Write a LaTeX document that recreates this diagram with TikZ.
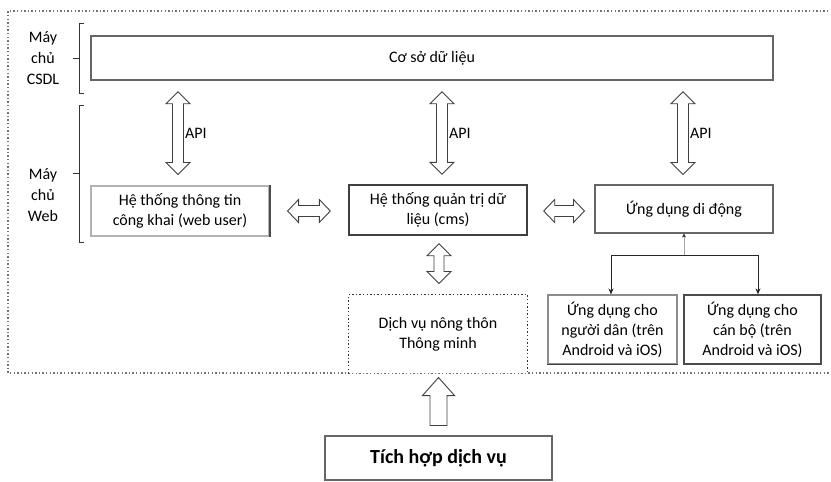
\documentclass[tikz,border=0pt]{standalone}
\usepackage{fontspec}
\setmainfont{Carlito}
\usetikzlibrary{calc,arrows.meta}
\tikzset{
  txt/.style={font=\fontsize{16}{20}\selectfont, align=center, text=black},
  box/.style={txt, draw=black!60, line width=1.1pt, fill=white, inner sep=0pt, anchor=center},
  lbl/.style={font=\fontsize{16}{21}\selectfont, align=center, text=black},
  brk/.style={draw=black!80, line width=1pt},
  fatarrow/.style={draw=black!75, fill=white, line width=0.9pt, line join=miter},
  dotline/.style={draw=black!55, line width=1.2pt, dash pattern=on 1.4pt off 2.2pt},
  conn/.style={draw=black!85, line width=1pt},
}
% vertical double fat arrow: top point, bottom point, half head width, head length, half shaft width
\newcommand\vdfat[5]{%
  \path[fatarrow] let \p1=#1, \p2=#2 in
   (\x1,\y1) -- ({\x1+#3},{\y1-#4}) -- ({\x1+#5},{\y1-#4}) -- ({\x1+#5},{\y2+#4}) -- ({\x1+#3},{\y2+#4})
   -- (\x1,\y2) -- ({\x1-#3},{\y2+#4}) -- ({\x1-#5},{\y2+#4}) -- ({\x1-#5},{\y1-#4}) -- ({\x1-#3},{\y1-#4}) -- cycle;}
% horizontal double fat arrow: left point, right point
\newcommand\hdfat[5]{%
  \path[fatarrow] let \p1=#1, \p2=#2 in
   (\x1,\y1) -- ({\x1+#4},{\y1+#3}) -- ({\x1+#4},{\y1+#5}) -- ({\x2-#4},{\y1+#5}) -- ({\x2-#4},{\y1+#3})
   -- (\x2,\y1) -- ({\x2-#4},{\y1-#3}) -- ({\x2-#4},{\y1-#5}) -- ({\x1+#4},{\y1-#5}) -- ({\x1+#4},{\y1-#3}) -- cycle;}
% single upward fat arrow: bottom point, top point
\newcommand\upfat[5]{%
  \path[fatarrow] let \p1=#1, \p2=#2 in
   (\x1,\y2) -- ({\x1+#3},{\y2-#4}) -- ({\x1+#5},{\y2-#4}) -- ({\x1+#5},\y1) -- ({\x1-#5},\y1)
   -- ({\x1-#5},{\y2-#4}) -- ({\x1-#3},{\y2-#4}) -- cycle;}
\begin{document}
\begin{tikzpicture}[x=1pt,y=-1pt]
\useasboundingbox[fill=white] (0,0) rectangle (831,482);

% outer dotted frame (right side beyond the picture)
\draw[dotline] (850,11) -- (8,11) -- (8,373) -- (850,373);

% side labels and brackets
\node[lbl] (lcsdl) at (43,58) {Máy\\chủ\\CSDL};
\node[lbl] (lweb) at (43,195) {Máy\\chủ\\Web};
\draw[brk] (84,23) -- (79,23) -- (79,93) -- (84,93);
\draw[brk] (79,58) -- (73,58);
\draw[brk] (84,105) -- (79,105) -- (79,242) -- (84,242);
\draw[brk] (79,173) -- (73,173);

% boxes
\node[box, minimum width=682pt, minimum height=44pt, line width=1.4pt] (db) at (432,58) {Cơ sở dữ liệu};
\node[box, draw=black!30, minimum width=178pt, minimum height=50pt] (web) at (180,211) {Hệ thống thông tin\\công khai (web user)};
\draw[line width=2pt, black!70] (web.north east) -- (web.south east);
\node[box, draw=black!75, line width=1.4pt, minimum width=178pt, minimum height=50pt] (cms) at (438,210) {Hệ thống quản trị dữ\\liệu (cms)};
\node[box, minimum width=178pt, minimum height=48pt] (mob) at (684,209) {Ứng dụng di động};
\node[box, draw=none, minimum width=178pt, minimum height=78pt] (dv) at (438,334) {Dịch vụ nông thôn\\Thông minh};
\draw[dotline, draw=black!80] (dv.south west) -- (dv.north west) -- (dv.north east) -- (dv.south east);
\node[box, font=\fontsize{20}{24}\selectfont\bfseries, minimum width=227pt, minimum height=44pt] (th) at (438.5,458) {Tích hợp dịch vụ};
\node[box, draw=black!45, minimum width=129pt, minimum height=69pt] (cit) at (612.5,329.5) {Ứng dụng cho\\người dân (trên\\Android và iOS)};
\draw[line width=1.6pt, black!75] (cit.south west) -- (cit.south east);
\node[box, draw=black!70, line width=1.3pt, minimum width=137pt, minimum height=69pt] (off) at (752.5,329.5) {Ứng dụng cho\\cán bộ (trên\\Android và iOS)};

% API fat arrows
\vdfat{($(db.south -| web.north)+(-2,11)$)}{($(web.north)+(-2,-11)$)}{12pt}{12pt}{5.5pt}
\vdfat{($(db.south -| cms.north)+(4,11)$)}{($(cms.north)+(4,-10)$)}{12pt}{12pt}{5.5pt}
\vdfat{($(db.south -| mob.north)+(-1,11)$)}{($(mob.north)+(-1,-10)$)}{12pt}{12pt}{5.5pt}
\node[txt, anchor=west, inner sep=0pt] (api1) at (185,133) {API};
\node[txt, anchor=west, inner sep=0pt] (api2) at (449,133) {API};
\node[txt, anchor=west, inner sep=0pt] (api3) at (690,133) {API};

% horizontal fat arrows
\hdfat{($(web.east)+(18,0)$)}{($(cms.west)+(-18,0)$)}{11.5pt}{11pt}{5.5pt}
\hdfat{($(cms.east)+(16,1)$)}{($(mob.west)+(-10,1)$)}{11.5pt}{11pt}{5.5pt}

% cms <-> Dich vu
\vdfat{($(cms.south)+(1,8)$)}{($(dv.north)+(1,-11)$)}{12pt}{12pt}{5pt}

% Tich hop -> Dich vu
\upfat{($(th.north)+(0,-10)$)}{($(dv.south)+(0,4)$)}{16pt}{18pt}{8.5pt}

% mobile branch
\coordinate (jc) at (684,255);
\draw[draw=black!35, line width=0.8pt, -{Stealth[length=4pt,width=4pt,color=black!85]}] (jc) -- (mob.south);
\draw[conn, -{Stealth[length=6pt,width=5pt]}] (jc) -| ($(cit.north)+(-1.5,0)$);
\draw[conn, -{Stealth[length=6pt,width=5pt]}] (jc) -| ($(off.north)+(5.5,0)$);
\end{tikzpicture}
\end{document}
